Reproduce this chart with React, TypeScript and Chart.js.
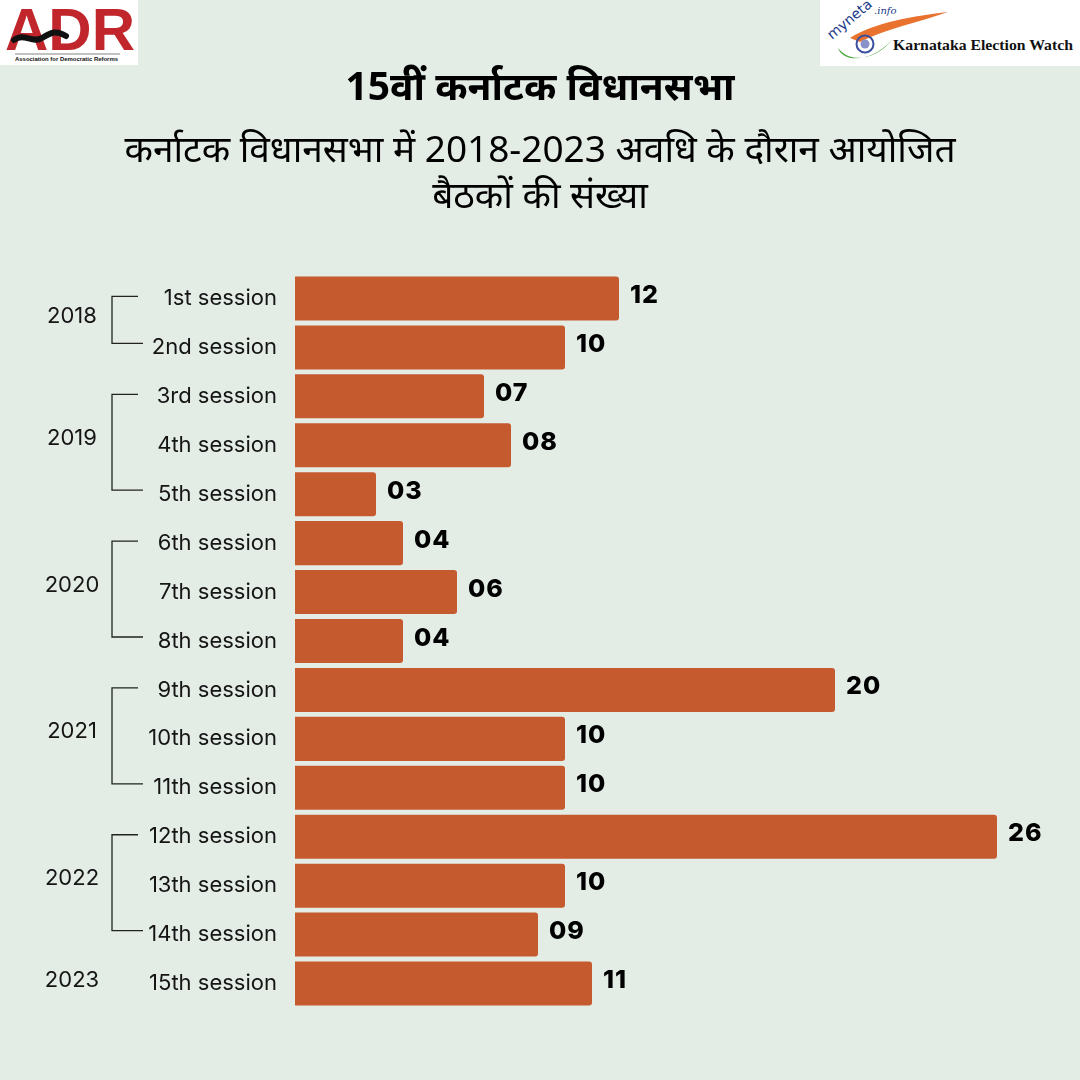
import React, { useEffect, useRef } from "react";
import { Chart, registerables } from "chart.js";

Chart.register(...registerables);

const sessions = [
  "1st session", "2nd session", "3rd session", "4th session", "5th session",
  "6th session", "7th session", "8th session", "9th session", "10th session",
  "11th session", "12th session", "13th session", "14th session", "15th session",
];
const sittings = [12, 10, 7, 8, 3, 4, 6, 4, 20, 10, 10, 26, 10, 9, 11];
const years = ["2018", "2019", "2020", "2021", "2022", "2023"];
const yearFirstSession = [0, 2, 5, 8, 11, 14];
const yearLastSession = [1, 4, 7, 10, 13, 14];

const title = "15वीं कर्नाटक विधानसभा";
const subtitleLines = [
  "कर्नाटक विधानसभा में 2018-2023 अवधि के दौरान आयोजित",
  "बैठकों की संख्या",
];

const BG = "#e4ece6";
const BAR = "#c65a2f";
const INK = "#151515";

const valueLabels = {
  id: "valueLabels",
  afterDatasetsDraw(chart: any) {
    const ctx = chart.ctx;
    const meta = chart.getDatasetMeta(0);
    ctx.save();
    ctx.font = "800 25px Inter, 'Noto Sans', sans-serif";
    ctx.fillStyle = "#000";
    ctx.textBaseline = "middle";
    ctx.textAlign = "left";
    (ctx as any).letterSpacing = "1px";
    meta.data.forEach((el: any, i: number) => {
      const txt = String(sittings[i]).padStart(2, "0");
      ctx.fillText(txt, el.x + 11, el.y - 3);
    });
    ctx.restore();
  },
};

const yearBrackets = {
  id: "yearBrackets",
  afterDraw(chart: any) {
    const ctx = chart.ctx;
    const y = chart.scales.y;
    ctx.save();
    ctx.strokeStyle = "#222";
    ctx.lineWidth = 1.3;
    ctx.fillStyle = INK;
    ctx.font = "400 22px Inter, 'Noto Sans', sans-serif";
    ctx.textAlign = "center";
    ctx.textBaseline = "middle";
    years.forEach((yr, k) => {
      const a = yearFirstSession[k];
      const b = yearLastSession[k];
      const ya = y.getPixelForValue(a) - 2;
      const yb = y.getPixelForValue(b) - 4;
      if (b > a) {
        const xv = 112;
        ctx.beginPath();
        ctx.moveTo(138, ya);
        ctx.lineTo(xv, ya);
        ctx.lineTo(xv, yb);
        ctx.lineTo(143, yb);
        ctx.stroke();
      }
      const mid = (ya + yb) / 2 - (b > a ? 4 : 0);
      ctx.fillText(yr, 72, mid);
    });
    ctx.restore();
  },
};

function AdrLogo() {
  return (
    <div style={{ position: "absolute", left: 0, top: 0, width: 138, height: 65, background: "#fff" }}>
      <svg width={138} height={65} viewBox="0 0 138 65">
        <text x={5} y={50} fontFamily="'Liberation Sans', Arial, sans-serif" fontWeight={700} fontSize={60} fill="#c0262c"
          textLength={130} lengthAdjust="spacingAndGlyphs">
          ADR
        </text>
        <path d="M14 40 C 24 32, 32 44, 42 38 S 56 30, 66 36" stroke="#111" strokeWidth={6} fill="none" strokeLinecap="round" />
        <line x1={15} y1={54} x2={120} y2={54} stroke="#333" strokeWidth={0.6} />
        <text x={15} y={61} fontFamily="'Liberation Sans', Arial, sans-serif" fontWeight={700} fontSize={5.6} fill="#111"
          textLength={103} lengthAdjust="spacingAndGlyphs">
          Association for Democratic Reforms
        </text>
      </svg>
    </div>
  );
}

function MynetaLogo() {
  return (
    <div style={{ position: "absolute", left: 820, top: 0, width: 260, height: 66, background: "#fff" }}>
      <svg width={260} height={66} viewBox="0 0 260 66">
        <path d="M30 38 C 55 22, 95 16, 128 12 C 100 22, 68 28, 40 42 Z" fill="#e8722e" />
        <path d="M18 48 C 22 62, 50 64, 72 40 C 56 60, 30 64, 18 48 Z" fill="#4aa83a" />
        <circle cx={45} cy={44} r={8.5} fill="none" stroke="#3a4fa0" strokeWidth={2} />
        <circle cx={45} cy={44} r={4.5} fill="#8a90c8" />
        <text x={0} y={0} transform="translate(12 40) rotate(-40)" fontFamily="'DejaVu Sans', sans-serif" fontSize={14} fill="#1a3a8a">
          myneta
        </text>
        <text x={54} y={14} fontFamily="'DejaVu Serif', serif" fontStyle="italic" fontSize={10} fill="#1a3a8a">.info</text>
        <text x={73} y={50} fontFamily="'Liberation Serif', 'DejaVu Serif', serif" fontWeight={700} fontSize={15} fill="#111"
          textLength={180} lengthAdjust="spacingAndGlyphs">
          Karnataka Election Watch
        </text>
      </svg>
    </div>
  );
}

export default function App() {
  const ref = useRef<HTMLCanvasElement>(null);

  useEffect(() => {
    document.body.style.margin = "0";
    const chart = new Chart(ref.current as HTMLCanvasElement, {
      type: "bar",
      data: {
        labels: sessions,
        datasets: [
          {
            data: sittings,
            backgroundColor: BAR,
            borderRadius: 3,
            borderSkipped: "start",
            barPercentage: 0.9,
            categoryPercentage: 1,
          },
        ],
      },
      options: {
        indexAxis: "y",
        responsive: false,
        animation: false,
        layout: { padding: { top: 274, bottom: 72, left: 0, right: 29 } },
        plugins: { legend: { display: false }, tooltip: { enabled: false } },
        scales: {
          x: { display: false, min: 0, max: 28 },
          y: {
            grid: { display: false },
            border: { display: false },
            afterFit: (s: any) => {
              s.width = 295;
            },
            ticks: {
              color: INK,
              padding: 10,
              font: { family: "Inter, 'Noto Sans', sans-serif", size: 22, weight: 400 },
            },
          },
        },
      },
      plugins: [valueLabels, yearBrackets],
    });
    return () => chart.destroy();
  }, []);

  return (
    <div style={{ position: "absolute", left: 0, top: 0, width: 1080, height: 1080, background: BG, overflow: "hidden" }}>
      <canvas ref={ref} width={1080} height={1080} style={{ position: "absolute", left: 0, top: 0 }} />
      <AdrLogo />
      <MynetaLogo />
      <div
        style={{
          position: "absolute", left: 0, top: 58, width: 1080, textAlign: "center",
          fontFamily: "'Noto Sans', sans-serif", fontWeight: 700, fontSize: 39, color: "#000",
        }}
      >
        {title}
      </div>
      <div
        style={{
          position: "absolute", left: 0, top: 125, width: 1080, textAlign: "center",
          fontFamily: "'Noto Sans', sans-serif", fontWeight: 400, fontSize: 37, lineHeight: "46px", color: "#000",
        }}
      >
        {subtitleLines.map((l, i) => (
          <div key={i}>{l}</div>
        ))}
      </div>
    </div>
  );
}
